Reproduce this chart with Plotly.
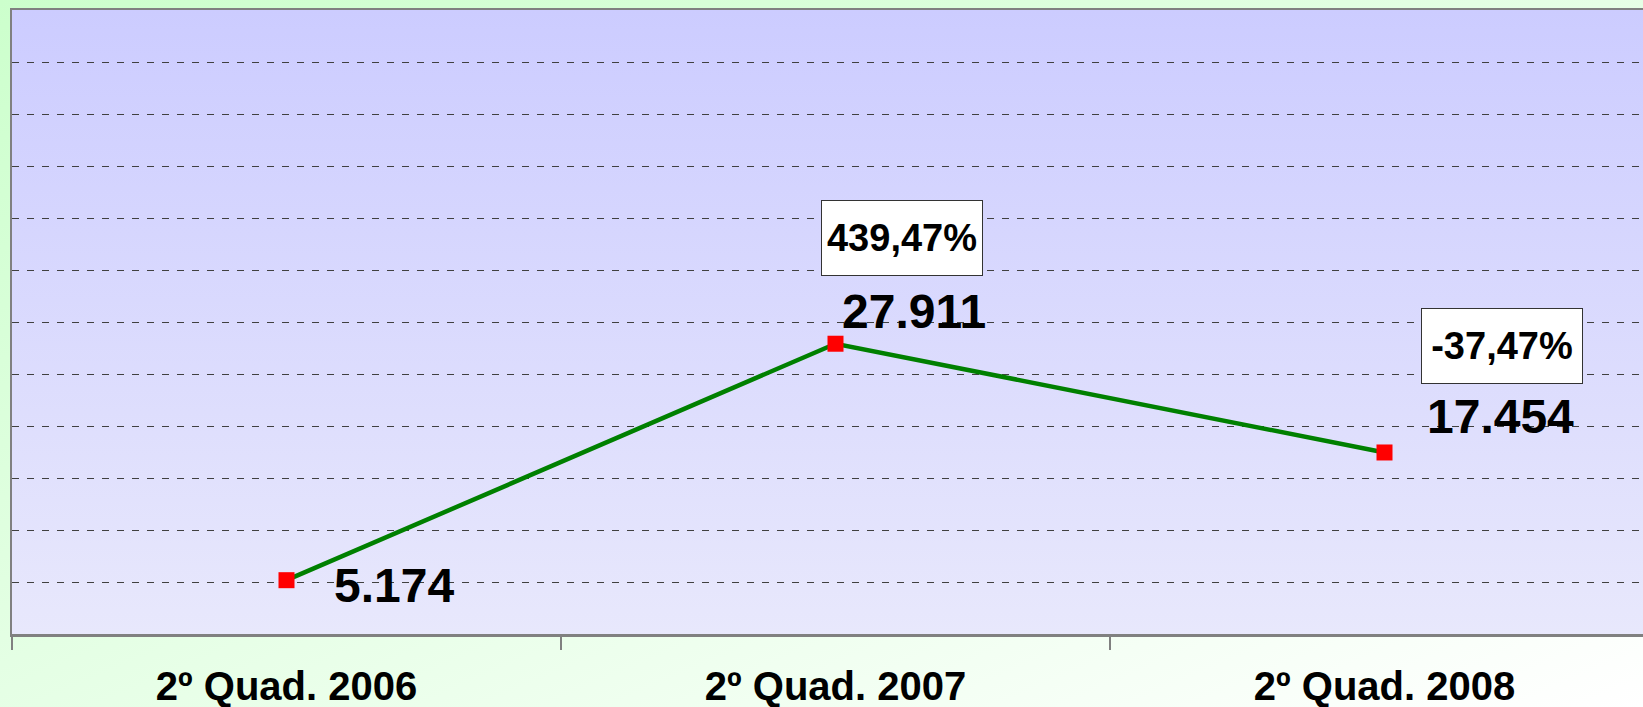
import base64
import plotly.graph_objects as go

# ---- data ----
categories = ["2º Quad. 2006", "2º Quad. 2007", "2º Quad. 2008"]
values = [5174, 27911, 17454]
pct_labels = [None, "439,47%", "-37,47%"]

# ---- layout geometry ----
W, H = 1643, 707
ML, MR, MT, MB = 12, 0, 10, 73
PW = W - ML - MR
PH = H - MT - MB
CAT_W = 549  # px per category in reference
x_range = [-0.5, -0.5 + PW / CAT_W]

def svg_uri(svg):
    return "data:image/svg+xml;base64," + base64.b64encode(svg.encode()).decode()

paper_svg = (
    '<svg xmlns="http://www.w3.org/2000/svg" width="100" height="100" viewBox="0 0 100 100" preserveAspectRatio="none">'
    '<defs><linearGradient id="g" x1="0" y1="0" x2="1" y2="1">'
    '<stop offset="0" stop-color="#ccffcc"/><stop offset="1" stop-color="#ffffff"/>'
    '</linearGradient></defs><rect width="100" height="100" fill="url(#g)"/></svg>'
)
plot_svg = (
    '<svg xmlns="http://www.w3.org/2000/svg" width="100" height="100" viewBox="0 0 100 100" preserveAspectRatio="none">'
    '<defs><linearGradient id="g" x1="0" y1="0" x2="0" y2="1">'
    '<stop offset="0" stop-color="#ccccff"/><stop offset="1" stop-color="#e8e8fc"/>'
    '</linearGradient></defs><rect width="100" height="100" fill="url(#g)"/></svg>'
)

fig = go.Figure()
fig.add_trace(go.Scatter(
    x=categories, y=values, mode="lines+markers",
    line=dict(color="#008000", width=4.5),
    marker=dict(symbol="square", size=16, color="#ff0000"),
    hoverinfo="skip",
))

FONT = "Liberation Sans, Arial, sans-serif"
annotations = []
val_shifts = [(107, -5), (78, 32), (116, 36)]
box_shifts = [None, (66, 106), (117, 106)]
for i, (c, v) in enumerate(zip(categories, values)):
    dx, dy = val_shifts[i]
    annotations.append(dict(
        x=c, y=v, xref="x", yref="y", text=f"<b>{v:,}</b>".replace(",", "."),
        showarrow=False, xshift=dx, yshift=dy, xanchor="center", yanchor="middle",
        font=dict(family=FONT, size=48, color="#000000"),
    ))
    if pct_labels[i]:
        bx, by = box_shifts[i]
        annotations.append(dict(
            x=c, y=v, xref="x", yref="y", text=f"<b>{pct_labels[i]}</b>",
            showarrow=False, xshift=bx, yshift=by, xanchor="center", yanchor="middle",
            font=dict(family=FONT, size=38, color="#000000"),
            bgcolor="#ffffff", bordercolor="#333333", borderwidth=1, borderpad=2,
            width=156, height=70,
        ))

fig.update_layout(
    width=W, height=H, autosize=False,
    margin=dict(l=ML, r=MR, t=MT, b=MB, pad=0, autoexpand=False),
    paper_bgcolor="#e6ffe6",
    plot_bgcolor="rgba(0,0,0,0)",
    showlegend=False,
    annotations=annotations,
    images=[
        dict(source=svg_uri(paper_svg), xref="paper", yref="paper",
             x=-ML / PW, y=1 + MT / PH, sizex=W / PW, sizey=H / PH,
             xanchor="left", yanchor="top", sizing="stretch", layer="below"),
        dict(source=svg_uri(plot_svg), xref="paper", yref="paper",
             x=0, y=1, sizex=1, sizey=1,
             xanchor="left", yanchor="top", sizing="stretch", layer="below"),
    ],
    xaxis=dict(
        type="category", range=x_range, tickson="boundaries", automargin=False,
        ticks="outside", ticklen=13, tickwidth=1.5, tickcolor="#808080",
        showline=True, linecolor="#808080", linewidth=2.5, mirror=True,
        showgrid=False, zeroline=False,
        tickfont=dict(family=FONT, size=40, color="#000000"),
        ticklabelstandoff=15,
        tickmode="array", tickvals=categories,
        ticktext=[f"<b>{c}</b>" for c in categories],
    ),
    yaxis=dict(
        range=[0, 60000], dtick=5000, showticklabels=False, ticks="", automargin=False,
        showgrid=True, gridcolor="#404040", gridwidth=1, griddash="7px,8px",
        showline=True, linecolor="#808080", linewidth=2.5, mirror=False,
        zeroline=False,
    ),
)

fig.write_html(
    "out.html",
    config={"responsive": False, "displayModeBar": False, "staticPlot": True},
    post_script="document.body.style.margin='0';document.body.style.overflow='hidden';",
)
